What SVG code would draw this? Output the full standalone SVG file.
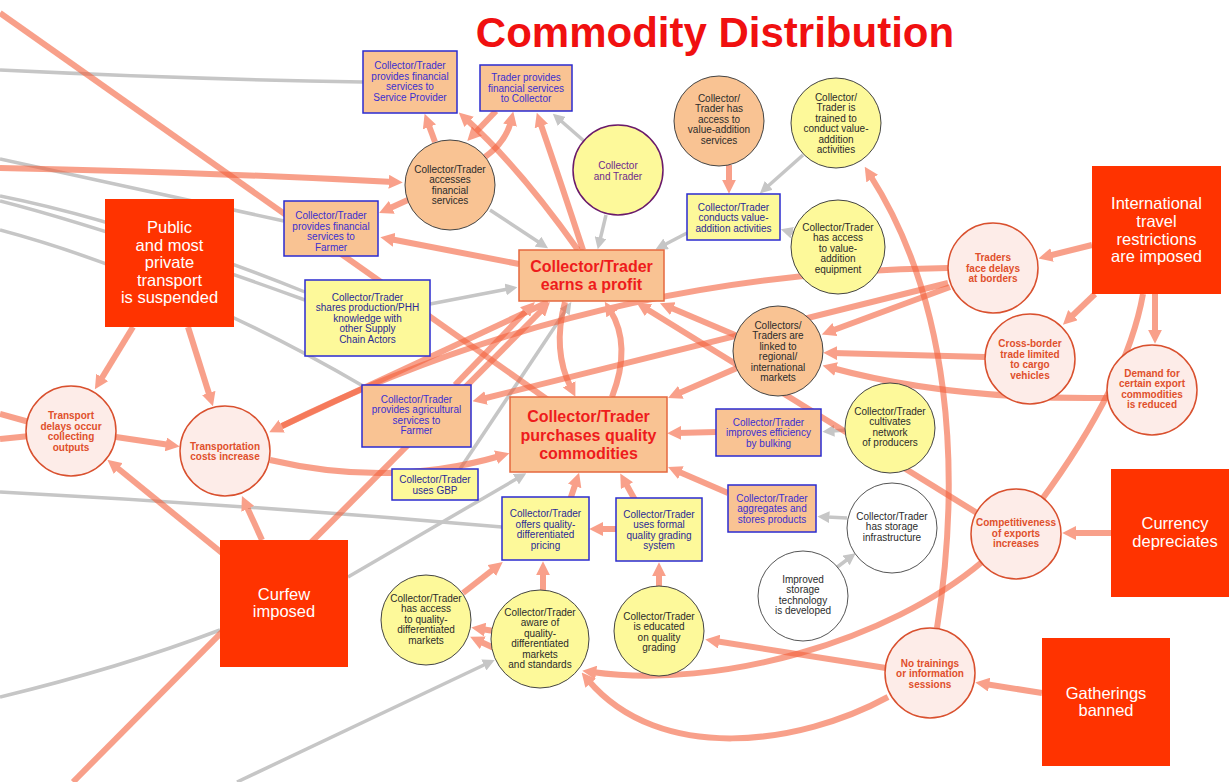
<svg xmlns="http://www.w3.org/2000/svg" width="1229" height="782" viewBox="0 0 1229 782">
<defs>
<style>
.s{fill:none;stroke:#f4603c;stroke-opacity:.6;stroke-width:6}
.g{fill:none;stroke:#c6c6c6;stroke-width:3.5}
.a{marker-end:url(#ms)}
.ag{marker-end:url(#mg)}
text{font-family:"Liberation Sans",Arial,Helvetica,sans-serif;text-anchor:middle}
.c{font-size:10px;fill:#2b2b2b}
.p{font-size:10px;fill:#e0502c;font-weight:bold}
.b{font-size:10px;fill:#3a2fd0}
.n{font-size:10px;fill:#2a2a96}
.pu{font-size:10px;fill:#6d2a8c}
.big{font-size:16px;font-weight:bold;fill:#ee1c1c}
.w{font-size:16.5px;fill:#fff}
.rb{fill:#ff3300}
.pc{fill:#fdece8;stroke:#d9502e;stroke-width:1.5}
.oc{fill:#f9c393;stroke:#444;stroke-width:1}
.yc{fill:#fdf99a;stroke:#444;stroke-width:1}
.wc{fill:#fff;stroke:#555;stroke-width:1}
.ob{fill:#f9c393;stroke:#2b2bd0;stroke-width:1.5}
.yb{fill:#fdf99a;stroke:#2b2bd0;stroke-width:1.5}
.bb{fill:#f9c393;stroke:#e5683f;stroke-width:1.5}
</style>
<marker id="ms" viewBox="0 0 10 10" refX="3" refY="5" markerWidth="14" markerHeight="14" markerUnits="userSpaceOnUse" orient="auto"><path d="M0,0L10,5L0,10z" fill="#f9a08a"/></marker>
<marker id="mg" viewBox="0 0 10 10" refX="2" refY="5" markerWidth="12" markerHeight="12" markerUnits="userSpaceOnUse" orient="auto"><path d="M0,0L10,5L0,10z" fill="#c6c6c6"/></marker>
</defs>
<rect width="1229" height="782" fill="#fff"/>
<text x="715" y="47" style="font-size:42px;font-weight:bold;fill:#f01010">Commodity Distribution</text>

<g id="connectors">
<path class="g" d="M0,70 Q180,79 363,82"/>
<path class="g" d="M0,159 L284,221"/>
<path class="g" d="M0,196 C90,214 200,250 305,292"/>
<path class="g" d="M0,201 C90,224 200,262 305,300"/>
<path class="g" d="M0,230 C120,262 250,320 363,386"/>
<path class="g" d="M0,492 Q250,505 502,527"/>
<path class="g" d="M0,697 Q120,668 220,630"/>
<path class="g ag" d="M348,577 L518,478"/>
<path class="g ag" d="M460,469 L566,310"/>
<path class="g ag" d="M237,782 L486,664"/>
<path class="g ag" d="M430,304 L508,289"/>
<path class="g ag" d="M490,210 L540,243"/>
<path class="g ag" d="M584,141 L560,120"/>
<path class="g ag" d="M606,215 L600,240"/>
<path class="g ag" d="M803,155 L767,187"/>
<path class="g ag" d="M797,234 L790,232"/>
<path class="g ag" d="M687,233 L664,245"/>
<path class="g ag" d="M846,430 L832,431"/>
<path class="g ag" d="M847,518 L827,517"/>
<path class="g ag" d="M836,568 L848,559"/>

<path class="s a" d="M0,168 Q200,172 393,182"/>
<path class="s a" d="M410,199 L388,209"/>
<path class="s a" d="M519,264 L390,239"/>
<path class="s a" d="M435,142 L428,123"/>
<path class="s a" d="M496,111 L474,134"/>
<path class="s a" d="M485,157 Q506,142 511,121"/>
<path class="s a" d="M578,250 Q520,168 466,119"/>
<path class="s a" d="M583,250 Q560,180 540,122"/>
<path class="s a" d="M948,268 Q592,272 278,428"/>
<path class="s" d="M548,302 L282,426"/>
<path class="s a" d="M73,782 L543,309"/>
<path class="s a" d="M455,385 L528,309"/>
<path class="s a" d="M565,302 Q552,350 571,388"/>
<path class="s a" d="M612,397 Q632,345 610,310"/>
<path class="s a" d="M948,283 L482,399"/>
<path class="s a" d="M950,287 L831,331"/>
<path class="s a" d="M985,357 L833,353"/>
<path class="s a" d="M1107,398 Q950,400 832,368"/>
<path class="s a" d="M735,335 L669,307"/>
<path class="s a" d="M977,513 L645,308"/>
<path class="s a" d="M737,368 L677,394"/>
<path class="s a" d="M270,460 Q390,488 500,456"/>
<path class="s a" d="M133,327 L100,381"/>
<path class="s a" d="M188,327 L210,397"/>
<path class="s a" d="M116,437 L170,445"/>
<path class="s a" d="M222,553 L115,466"/>
<path class="s a" d="M262,540 L246,505"/>
<path class="s" d="M0,414 L40,425"/>
<path class="s" d="M0,439 L40,435"/>
<path class="s a" d="M1092,245 L1048,256"/>
<path class="s a" d="M1095,294 L1070,318"/>
<path class="s a" d="M1155,294 L1155,334"/>
<path class="s" d="M1143,294 Q1127,384 1040,502"/>
<path class="s a" d="M1111,533 L1072,533"/>
<path class="s a" d="M1042,693 L985,684"/>
<path class="s a" d="M886,668 L715,641"/>
<path class="s a" d="M937,628 C962,470 950,300 870,175"/>
<path class="s a" d="M982,562 C890,640 720,690 592,672"/>
<path class="s a" d="M888,697 C800,745 660,765 588,680"/>
<path class="s a" d="M716,432 L677,433"/>
<path class="s a" d="M728,493 L677,471"/>
<path class="s a" d="M570,500 L576,482"/>
<path class="s a" d="M635,500 L625,482"/>
<path class="s a" d="M616,529 L599,529"/>
<path class="s a" d="M659,587 L659,572"/>
<path class="s a" d="M543,590 L543,571"/>
<path class="s a" d="M463,593 L495,568"/>
<path class="s a" d="M494,631 L481,629"/>
<path class="s a" d="M494,648 L479,641"/>
<path class="s a" d="M729,165 L729,184"/>
<path class="s" d="M0,13 L548,400"/>
</g>

<g id="public-transport"><rect class="rb" x="105" y="199" width="129" height="128"/>
<text class="w"><tspan x="169.5" y="233">Public</tspan><tspan x="169.5" y="251">and most</tspan><tspan x="169.5" y="268">private</tspan><tspan x="169.5" y="286">transport</tspan><tspan x="169.5" y="303">is suspended</tspan></text></g>
<g id="international-travel"><rect class="rb" x="1092" y="166" width="129" height="128"/>
<text class="w"><tspan x="1156.5" y="209">International</tspan><tspan x="1156.5" y="227">travel</tspan><tspan x="1156.5" y="245">restrictions</tspan><tspan x="1156.5" y="262">are imposed</tspan></text></g>
<g id="curfew"><rect class="rb" x="220" y="540" width="128" height="127"/>
<text class="w"><tspan x="284" y="600">Curfew</tspan><tspan x="284" y="617">imposed</tspan></text></g>
<g id="currency"><rect class="rb" x="1111" y="469" width="125" height="128"/>
<text class="w"><tspan x="1175" y="529">Currency</tspan><tspan x="1175" y="547">depreciates</tspan></text></g>
<g id="gatherings"><rect class="rb" x="1042" y="638" width="128" height="128"/>
<text class="w"><tspan x="1106" y="699">Gatherings</tspan><tspan x="1106" y="716">banned</tspan></text></g>

<g id="transport-delays"><circle class="pc" cx="71" cy="431" r="45"/>
<text class="p"><tspan x="71" y="419">Transport</tspan><tspan x="71" y="429.5">delays occur</tspan><tspan x="71" y="440">collecting</tspan><tspan x="71" y="450.5">outputs</tspan></text></g>
<g id="transport-costs"><circle class="pc" cx="225" cy="451" r="45"/>
<text class="p"><tspan x="225" y="449.5">Transportation</tspan><tspan x="225" y="460">costs increase</tspan></text></g>
<g id="border-delays"><circle class="pc" cx="993" cy="268" r="45"/>
<text class="p"><tspan x="993" y="261">Traders</tspan><tspan x="993" y="271.5">face delays</tspan><tspan x="993" y="282">at borders</tspan></text></g>
<g id="cross-border"><circle class="pc" cx="1030" cy="359" r="45"/>
<text class="p"><tspan x="1030" y="346.5">Cross-border</tspan><tspan x="1030" y="357.5">trade limited</tspan><tspan x="1030" y="368">to cargo</tspan><tspan x="1030" y="378.5">vehicles</tspan></text></g>
<g id="demand-reduced"><circle class="pc" cx="1152" cy="390" r="45"/>
<text class="p"><tspan x="1152" y="376.5">Demand for</tspan><tspan x="1152" y="387">certain export</tspan><tspan x="1152" y="397.5">commodities</tspan><tspan x="1152" y="408">is reduced</tspan></text></g>
<g id="competitiveness"><circle class="pc" cx="1016" cy="534" r="45"/>
<text class="p"><tspan x="1016" y="526">Competitiveness</tspan><tspan x="1016" y="536.5">of exports</tspan><tspan x="1016" y="547">increases</tspan></text></g>
<g id="no-trainings"><circle class="pc" cx="930" cy="673" r="45"/>
<text class="p"><tspan x="930" y="666.5">No trainings</tspan><tspan x="930" y="677">or information</tspan><tspan x="930" y="687.5">sessions</tspan></text></g>

<g id="accesses-financial"><circle class="oc" cx="450" cy="185" r="45"/>
<text class="c"><tspan x="450" y="172.5">Collector/Trader</tspan><tspan x="450" y="183">accesses</tspan><tspan x="450" y="193.5">financial</tspan><tspan x="450" y="204">services</tspan></text></g>
<g id="value-addition-services"><circle class="oc" cx="719" cy="121" r="45"/>
<text class="c"><tspan x="719" y="101.5">Collector/</tspan><tspan x="719" y="112">Trader has</tspan><tspan x="719" y="122.5">access to</tspan><tspan x="719" y="133">value-addition</tspan><tspan x="719" y="143.5">services</tspan></text></g>
<g id="linked-markets"><circle class="oc" cx="778" cy="351" r="45"/>
<text class="c"><tspan x="778" y="328.5">Collectors/</tspan><tspan x="778" y="339">Traders are</tspan><tspan x="778" y="349.5">linked to</tspan><tspan x="778" y="360">regional/</tspan><tspan x="778" y="370.5">international</tspan><tspan x="778" y="381">markets</tspan></text></g>

<g id="collector-and-trader"><circle cx="618" cy="170" r="45" fill="#fdf99a" stroke="#6a1a6a" stroke-width="1.5"/>
<text class="pu"><tspan x="618" y="168.5">Collector</tspan><tspan x="618" y="179.5">and Trader</tspan></text></g>
<g id="trained"><circle class="yc" cx="836" cy="123" r="45"/>
<text class="c"><tspan x="836" y="100.5">Collector/</tspan><tspan x="836" y="111">Trader is</tspan><tspan x="836" y="121.5">trained to</tspan><tspan x="836" y="132">conduct value-</tspan><tspan x="836" y="142.5">addition</tspan><tspan x="836" y="153">activities</tspan></text></g>
<g id="equipment"><circle class="yc" cx="838" cy="247" r="47"/>
<text class="c"><tspan x="838" y="230.5">Collector/Trader</tspan><tspan x="838" y="241">has access</tspan><tspan x="838" y="251.5">to value-</tspan><tspan x="838" y="262">addition</tspan><tspan x="838" y="272.5">equipment</tspan></text></g>
<g id="cultivates"><circle class="yc" cx="890" cy="428" r="45"/>
<text class="c"><tspan x="890" y="414.5">Collector/Trader</tspan><tspan x="890" y="425">cultivates</tspan><tspan x="890" y="435.5">network</tspan><tspan x="890" y="446">of producers</tspan></text></g>
<g id="access-quality-markets"><circle class="yc" cx="426" cy="620" r="45"/>
<text class="c"><tspan x="426" y="601.5">Collector/Trader</tspan><tspan x="426" y="612">has access</tspan><tspan x="426" y="622.5">to quality-</tspan><tspan x="426" y="633">differentiated</tspan><tspan x="426" y="643.5">markets</tspan></text></g>
<g id="aware-quality"><circle class="yc" cx="540" cy="639" r="49"/>
<text class="c"><tspan x="540" y="615.5">Collector/Trader</tspan><tspan x="540" y="626">aware of</tspan><tspan x="540" y="636.5">quality-</tspan><tspan x="540" y="647">differentiated</tspan><tspan x="540" y="657.5">markets</tspan><tspan x="540" y="668">and standards</tspan></text></g>
<g id="educated-grading"><circle class="yc" cx="659" cy="631" r="45"/>
<text class="c"><tspan x="659" y="619.5">Collector/Trader</tspan><tspan x="659" y="630">is educated</tspan><tspan x="659" y="640.5">on quality</tspan><tspan x="659" y="651">grading</tspan></text></g>

<g id="storage-infrastructure"><circle class="wc" cx="892" cy="528" r="45"/>
<text class="c"><tspan x="892" y="519.5">Collector/Trader</tspan><tspan x="892" y="530">has storage</tspan><tspan x="892" y="540.5">infrastructure</tspan></text></g>
<g id="storage-technology"><circle class="wc" cx="803" cy="596" r="45"/>
<text class="c"><tspan x="803" y="582.5">Improved</tspan><tspan x="803" y="593">storage</tspan><tspan x="803" y="603.5">technology</tspan><tspan x="803" y="614">is developed</tspan></text></g>

<g id="fin-service-provider"><rect class="ob" x="363" y="51" width="94" height="62"/>
<text class="b"><tspan x="410" y="68.5">Collector/Trader</tspan><tspan x="410" y="79.5">provides financial</tspan><tspan x="410" y="90">services to</tspan><tspan x="410" y="100.5">Service Provider</tspan></text></g>
<g id="fin-collector"><rect class="ob" x="480" y="65" width="92" height="46"/>
<text class="b"><tspan x="526" y="80.5">Trader provides</tspan><tspan x="526" y="91.5">financial services</tspan><tspan x="526" y="102">to Collector</tspan></text></g>
<g id="fin-farmer"><rect class="ob" x="284" y="201" width="94" height="55"/>
<text class="b"><tspan x="331" y="218.5">Collector/Trader</tspan><tspan x="331" y="229.5">provides financial</tspan><tspan x="331" y="240">services to</tspan><tspan x="331" y="250.5">Farmer</tspan></text></g>
<g id="agri-farmer"><rect class="ob" x="362" y="385" width="109" height="62"/>
<text class="b"><tspan x="416.5" y="402.5">Collector/Trader</tspan><tspan x="416.5" y="413">provides agricultural</tspan><tspan x="416.5" y="423.5">services to</tspan><tspan x="416.5" y="434">Farmer</tspan></text></g>
<g id="bulking"><rect class="ob" x="716" y="409" width="105" height="47"/>
<text class="b"><tspan x="768.5" y="425.5">Collector/Trader</tspan><tspan x="768.5" y="436">improves efficiency</tspan><tspan x="768.5" y="446.5">by bulking</tspan></text></g>
<g id="aggregates"><rect class="ob" x="728" y="485" width="88" height="47"/>
<text class="b"><tspan x="772" y="501.5">Collector/Trader</tspan><tspan x="772" y="512">aggregates and</tspan><tspan x="772" y="522.5">stores products</tspan></text></g>

<g id="conducts-value-addition"><rect class="yb" x="687" y="194" width="93" height="46"/>
<text class="n"><tspan x="733.5" y="210.5">Collector/Trader</tspan><tspan x="733.5" y="221">conducts value-</tspan><tspan x="733.5" y="231.5">addition activities</tspan></text></g>
<g id="shares-knowledge"><rect class="yb" x="305" y="280" width="125" height="76"/>
<text class="n"><tspan x="367.5" y="300.5">Collector/Trader</tspan><tspan x="367.5" y="311">shares production/PHH</tspan><tspan x="367.5" y="321.5">knowledge with</tspan><tspan x="367.5" y="332">other Supply</tspan><tspan x="367.5" y="342.5">Chain Actors</tspan></text></g>
<g id="uses-gbp"><rect class="yb" x="392" y="469" width="86" height="31"/>
<text class="n"><tspan x="435" y="483">Collector/Trader</tspan><tspan x="435" y="493.5">uses GBP</tspan></text></g>
<g id="quality-pricing"><rect class="yb" x="502" y="497" width="87" height="63"/>
<text class="n"><tspan x="545.5" y="516.5">Collector/Trader</tspan><tspan x="545.5" y="527.5">offers quality-</tspan><tspan x="545.5" y="538">differentiated</tspan><tspan x="545.5" y="548.5">pricing</tspan></text></g>
<g id="formal-grading"><rect class="yb" x="616" y="498" width="86" height="63"/>
<text class="n"><tspan x="659" y="517.5">Collector/Trader</tspan><tspan x="659" y="528">uses formal</tspan><tspan x="659" y="538.5">quality grading</tspan><tspan x="659" y="549">system</tspan></text></g>

<g id="earns-profit"><rect class="bb" x="519" y="250" width="145" height="51"/>
<text class="big"><tspan x="591.5" y="272">Collector/Trader</tspan><tspan x="591.5" y="290">earns a profit</tspan></text></g>
<g id="purchases-quality"><rect class="bb" x="510" y="397" width="157" height="75"/>
<text class="big"><tspan x="588.5" y="422">Collector/Trader</tspan><tspan x="588.5" y="441">purchases quality</tspan><tspan x="588.5" y="459">commodities</tspan></text></g>
</svg>
